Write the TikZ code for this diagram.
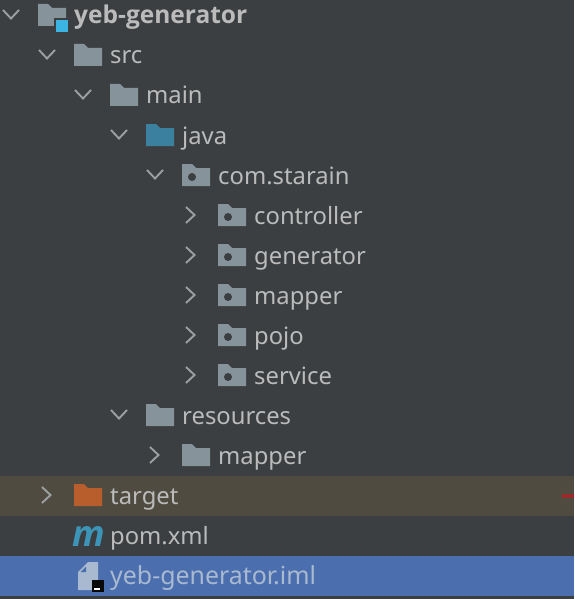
\documentclass[tikz,border=0pt]{standalone}
\usepackage{fontspec}
\setmainfont{Noto Sans}
\newfontfamily\boldface{Open Sans}
\definecolor{bgc}{HTML}{3C3F41}
\definecolor{tgtbg}{HTML}{4F4B41}
\definecolor{selbg}{HTML}{4B6EAF}
\definecolor{fold}{HTML}{87939A}
\definecolor{javaf}{HTML}{3C80A0}
\definecolor{tgtf}{HTML}{B85E2D}
\definecolor{txt}{HTML}{BBBBBB}
\definecolor{seltxt}{HTML}{A9BAD0}
\definecolor{cyanbox}{HTML}{3BB3E3}
\definecolor{mblue}{HTML}{3C94B8}
\definecolor{chev}{HTML}{9DA0A2}
\definecolor{marker}{HTML}{9C2A2A}
\tikzset{
  label text/.style={anchor=base west,inner sep=0pt,text=txt,font=\fontsize{23.8}{28}\selectfont},
  down chev/.style={draw=chev,line width=1.9pt,line cap=butt,line join=miter},
  pkgdot/.style={fill=bgc,draw=none},
}
\newcommand{\fshape}[3]{% x, ycentre, colour
  \fill[#3] (#1,#2-11) -- ++(10,0) -- ++(4,4) -- ++(14,0) -- ++(0,18) -- ++(-28,0) -- cycle;}
\newcommand{\pkgshape}[2]{%
  \fshape{#1}{#2}{fold}
  \fill[pkgdot] (#1+10,#2+2) circle (4);}
\newcommand{\dchev}[2]{\draw[down chev] (#1-8,#2-5) -- (#1,#2+3.5) -- (#1+8,#2-5);}
\newcommand{\rchev}[2]{\draw[down chev] (#1-4,#2-8) -- (#1+4.5,#2) -- (#1-4,#2+8);}
\begin{document}
\begin{tikzpicture}[x=1pt,y=-1pt]
\useasboundingbox (0,0) rectangle (574,599);
\fill[bgc] (0,0) rectangle (574,599);
\fill[tgtbg] (0,476) rectangle (574,516);
\fill[selbg] (0,556) rectangle (574,596);
\fill[marker] (562,494) rectangle (574,498);
% chevrons
\dchev{11}{15}
\dchev{47}{55}
\dchev{83}{95}
\dchev{119}{135}
\dchev{155}{175}
\rchev{190}{215}
\rchev{190}{255}
\rchev{190}{295}
\rchev{190}{335}
\rchev{190}{375}
\dchev{119}{415}
\rchev{154}{455}
\rchev{46}{495}
% icons
\fshape{38}{15}{fold}
\fill[bgc] (54,18) rectangle (68,32);
\fill[cyanbox] (56,20) rectangle (68,32);
\fshape{74}{55}{fold}
\fshape{110}{95}{fold}
\fshape{146}{135}{javaf}
\pkgshape{182}{175}
\pkgshape{218}{215}
\pkgshape{218}{255}
\pkgshape{218}{295}
\pkgshape{218}{335}
\pkgshape{218}{375}
\fshape{146}{415}{fold}
\fshape{182}{455}{fold}
\fshape{74}{495}{tgtf}
% iml file icon
\fill[seltxt] (78,572) -- (88,562) -- (98,562) -- (98,580) -- (92,580) -- (92,590) -- (78,590) -- cycle;
\fill[selbg] (80.5,572) -- (86,566.5) -- (86,572) -- cycle;
\fill[black!85!bgc] (92,580) rectangle (104,592);
\fill[white] (94,587.5) rectangle (100,589.5);
% labels
\node[label text,font=\fontsize{24.5}{28}\boldface\bfseries\selectfont] (root) at (74,24) {yeb-generator};
\node[label text] (src) at (110,64) {src};
\node[label text] (main) at (146,104) {main};
\node[label text] (java) at (182,144) {java};
\node[label text] (com) at (218,184) {com.starain};
\node[label text] (controller) at (254,224) {controller};
\node[label text] (generator) at (254,264) {generator};
\node[label text] (mapperA) at (254,304) {mapper};
\node[label text] (pojo) at (254,344) {pojo};
\node[label text] (service) at (254,384) {service};
\node[label text] (resources) at (182,424) {resources};
\node[label text] (mapperB) at (218,464) {mapper};
\node[label text] (target) at (110,504) {target};
\node[label text,font=\fontsize{36}{36}\boldface\bfseries\itshape\selectfont,text=mblue] (pomicon) at (72,546) {m};
\node[label text] (pom) at (110,544) {pom.xml};
\node[label text,text=seltxt,font=\fontsize{24.9}{28}\selectfont] (iml) at (110,584) {yeb-generator.iml};
\end{tikzpicture}
\end{document}
